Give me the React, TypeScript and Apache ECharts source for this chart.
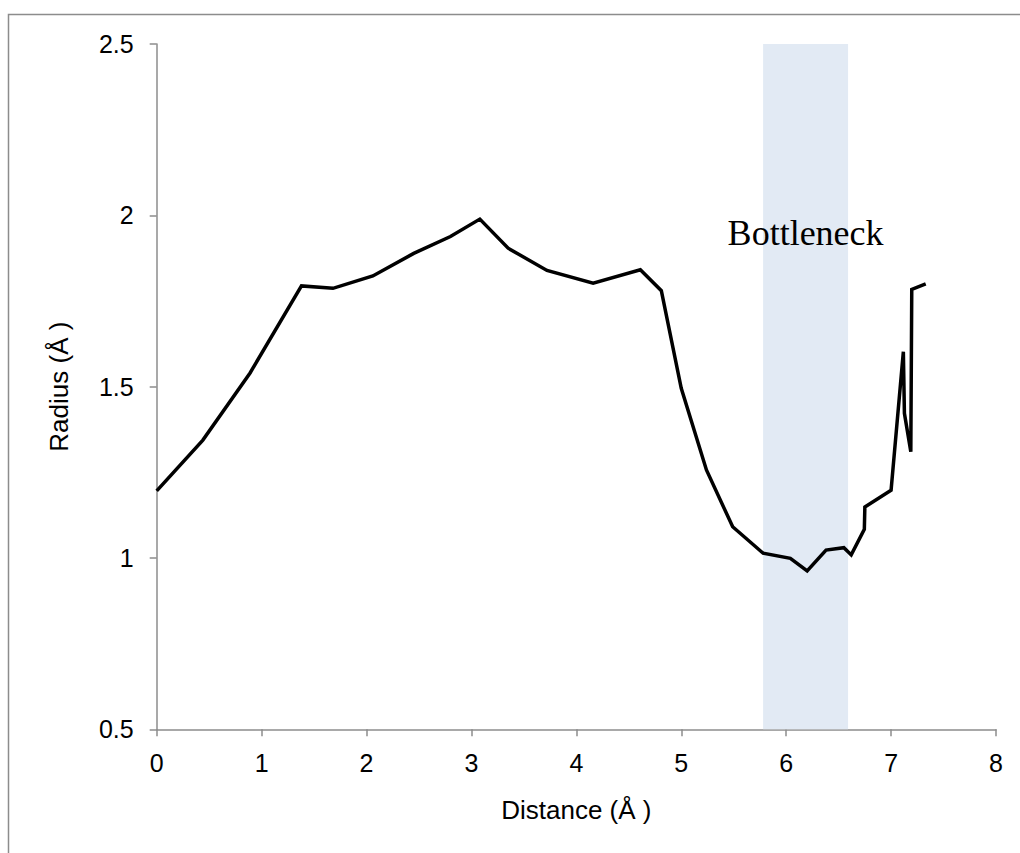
import React, { useEffect, useRef } from "react";
import * as echarts from "echarts";

const distance = [0, 0.44, 0.89, 1.38, 1.68, 2.06, 2.45, 2.8, 3.08, 3.35, 3.72, 4.16, 4.61, 4.81, 5.0, 5.24, 5.49, 5.78, 6.04, 6.2, 6.38, 6.55, 6.62, 6.745, 6.75, 7.0, 7.117, 7.127, 7.188, 7.197, 7.33];
const radius = [1.196, 1.344, 1.54, 1.794, 1.787, 1.823, 1.889, 1.938, 1.989, 1.904, 1.839, 1.802, 1.841, 1.78, 1.495, 1.257, 1.091, 1.014, 0.999, 0.962, 1.023, 1.03, 1.009, 1.084, 1.149, 1.198, 1.602, 1.422, 1.31, 1.784, 1.8];
const bottleneckRange = [5.78, 6.59];
const bottleneckLabel = "Bottleneck";
const xTitle = "Distance (Å )";
const yTitle = "Radius (Å )";

export default function App() {
  const ref = useRef<HTMLDivElement>(null);
  useEffect(() => {
    if (!ref.current) return;
    const chart = echarts.init(ref.current, undefined, { renderer: "svg" });
    const axisColor = "#8c8c8c";
    const font = "'Liberation Sans', Arial, sans-serif";
    chart.setOption({
      animation: false,
      backgroundColor: "#ffffff",
      grid: { left: 156.7, right: 24, top: 44, bottom: 123.7 },
      xAxis: {
        type: "value",
        min: 0,
        max: 8,
        interval: 1,
        name: xTitle,
        nameLocation: "middle",
        nameGap: 68,
        nameTextStyle: { color: "#000", fontSize: 26, fontFamily: font },
        axisLine: { show: true, onZero: false, lineStyle: { color: axisColor, width: 1.5 } },
        axisTick: { show: true, length: 7, inside: false, lineStyle: { color: axisColor, width: 1.5 } },
        axisLabel: { color: "#000", fontSize: 25, fontFamily: font, margin: 21 },
        splitLine: { show: false },
      },
      yAxis: {
        type: "value",
        min: 0.5,
        max: 2.5,
        interval: 0.5,
        name: yTitle,
        nameLocation: "middle",
        nameGap: 85,
        nameTextStyle: { color: "#000", fontSize: 26, fontFamily: font },
        axisLine: { show: true, onZero: false, lineStyle: { color: axisColor, width: 1.5 } },
        axisTick: { show: true, length: 7, inside: false, lineStyle: { color: axisColor, width: 1.5 } },
        axisLabel: { color: "#000", fontSize: 25, fontFamily: font, margin: 23 },
        splitLine: { show: false },
      },
      graphic: [
        {
          type: "polyline",
          shape: { points: [[8.5, 853], [8.5, 14.5], [1020, 14.5]] },
          style: { stroke: "#8c8c8c", lineWidth: 1.5, fill: "none" },
          silent: true,
        },
      ],
      series: [
        {
          type: "line",
          data: distance.map((d, i) => [d, radius[i]]),
          showSymbol: false,
          symbol: "none",
          lineStyle: { color: "#000000", width: 3.5, join: "miter" },
          z: 3,
          markArea: {
            silent: true,
            itemStyle: { color: "#e2eaf4", opacity: 1 },
            label: {
              show: true,
              position: "insideTop",
              distance: 171,
              color: "#000",
              fontSize: 36,
              fontFamily: "'Liberation Serif', 'Times New Roman', serif",
            },
            data: [
              [
                { name: bottleneckLabel, xAxis: bottleneckRange[0], yAxis: 2.5 },
                { xAxis: bottleneckRange[1], yAxis: 0.5 },
              ],
            ],
          },
        },
      ],
    });
    return () => chart.dispose();
  }, []);
  return (
    <div
      ref={ref}
      style={{ position: "fixed", left: 0, top: 0, width: 1020, height: 853 }}
    />
  );
}
